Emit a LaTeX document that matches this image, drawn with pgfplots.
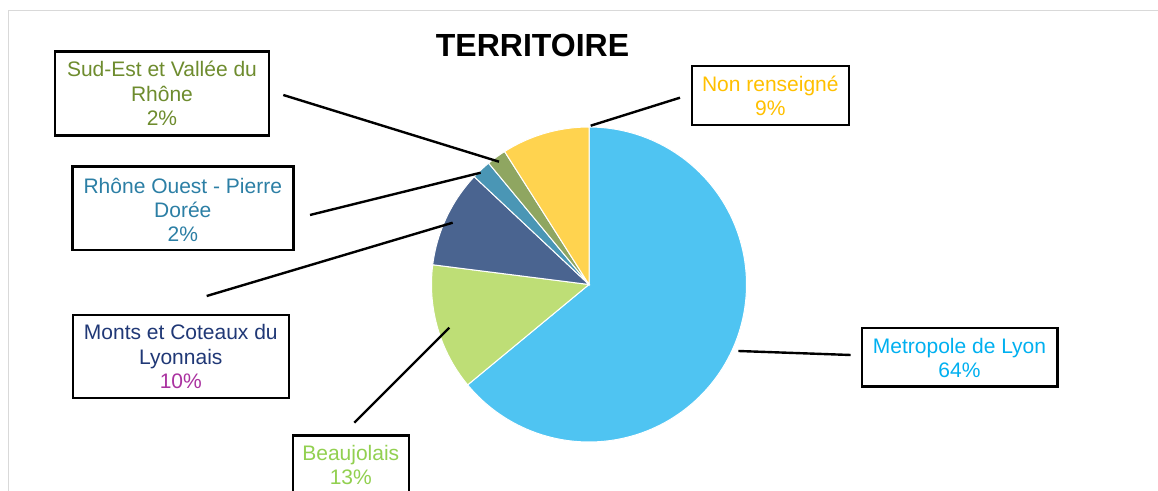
\documentclass[border=0pt]{standalone}
\usepackage{pgfplots}
\usepackage{pgfplotstable}
\pgfplotsset{compat=1.18}
\usepackage{fontspec}
\setmainfont{Liberation Sans}
\definecolor{cMet}{RGB}{79,196,242}
\definecolor{cBea}{RGB}{190,222,118}
\definecolor{cMon}{RGB}{74,100,144}
\definecolor{cRho}{RGB}{74,150,181}
\definecolor{cSud}{RGB}{143,166,97}
\definecolor{cNon}{RGB}{255,211,79}
\definecolor{tMet}{RGB}{0,176,240}
\definecolor{tBea}{RGB}{146,208,80}
\definecolor{tMon}{RGB}{32,56,118}
\definecolor{tMonP}{RGB}{170,50,160}
\definecolor{tRho}{RGB}{44,127,165}
\definecolor{tSud}{RGB}{110,140,46}
\definecolor{tNon}{RGB}{255,192,0}
\definecolor{frame}{RGB}{217,217,217}
\pgfplotstableread{
name value
Metropole 64
Beaujolais 13
Monts 10
RhoneOuest 2
SudEst 2
NonRenseigne 9
}\pietable
\begin{document}
\begin{tikzpicture}
\pgfplotstablegetelem{0}{value}\of\pietable \pgfmathsetmacro\aA{90-3.6*\pgfplotsretval}
\pgfplotstablegetelem{1}{value}\of\pietable \pgfmathsetmacro\aB{\aA-3.6*\pgfplotsretval}
\pgfplotstablegetelem{2}{value}\of\pietable \pgfmathsetmacro\aC{\aB-3.6*\pgfplotsretval}
\pgfplotstablegetelem{3}{value}\of\pietable \pgfmathsetmacro\aD{\aC-3.6*\pgfplotsretval}
\pgfplotstablegetelem{4}{value}\of\pietable \pgfmathsetmacro\aE{\aD-3.6*\pgfplotsretval}
\pgfplotstablegetelem{5}{value}\of\pietable \pgfmathsetmacro\aF{\aE-3.6*\pgfplotsretval}
\begin{axis}[
  at={(0,0)}, anchor=south west,
  width=579pt, height=245.5pt, scale only axis,
  xmin=0, xmax=1158, ymin=0, ymax=491, y dir=reverse,
  hide axis, clip=false,
  every axis plot/.append style={draw=white, line width=0.5pt},
]
% frame
\draw[frame, line width=0.8pt] (8.7,491) -- (8.7,10.7) -- (1158,10.7);
% pie slices
\addplot[fill=cMet, domain=\aA:90, samples=120, variable=\t]
  ({589+157.5*cos(t)}, {284.5-157.5*sin(t)}) -- (589,284.5) -- cycle;
\addplot[fill=cBea, domain=\aB:\aA, samples=30, variable=\t]
  ({589+157.5*cos(t)}, {284.5-157.5*sin(t)}) -- (589,284.5) -- cycle;
\addplot[fill=cMon, domain=\aC:\aB, samples=30, variable=\t]
  ({589+157.5*cos(t)}, {284.5-157.5*sin(t)}) -- (589,284.5) -- cycle;
\addplot[fill=cRho, domain=\aD:\aC, samples=10, variable=\t]
  ({589+157.5*cos(t)}, {284.5-157.5*sin(t)}) -- (589,284.5) -- cycle;
\addplot[fill=cSud, domain=\aE:\aD, samples=10, variable=\t]
  ({589+157.5*cos(t)}, {284.5-157.5*sin(t)}) -- (589,284.5) -- cycle;
\addplot[fill=cNon, domain=\aF:\aE, samples=30, variable=\t]
  ({589+157.5*cos(t)}, {284.5-157.5*sin(t)}) -- (589,284.5) -- cycle;
% leader lines
\tikzset{lead/.style={black, line width=1.2pt}}
\draw[lead] (283.3,95) -- (499,161.7);
\draw[lead] (680,97.7) -- (590.7,125.7);
\draw[lead] (310,215) -- (480.7,172.7);
\draw[lead] (206.7,296) -- (452.7,222.7);
\draw[lead] (354.3,422.7) -- (449.3,327.7);
\draw[lead] (738.3,351) -- (850.7,355);
% boxes
\tikzset{bx/.style={black, fill=white, line width=1.2pt}}
\draw[bx] (55,51.7) rectangle (269,135.7);
\draw[bx] (691.7,66) rectangle (849,125.3);
\draw[bx] (72.3,166.7) rectangle (293.3,250);
\draw[bx] (72.7,315) rectangle (289,398.3);
\draw[bx] (292.7,435.7) rectangle (409,500);
\draw[bx] (861.7,328.3) rectangle (1057.3,386.7);
% title
\node[anchor=base, font=\fontsize{16}{19}\selectfont\bfseries, inner sep=0pt] at (532.5,57) {TERRITOIRE};
% labels
\tikzset{lbl/.style={anchor=base, inner sep=0pt, font=\fontsize{10.5}{12.5}\selectfont}}
\node[lbl, text=tSud] at (162,76.7) {Sud-Est et Vallée du};
\node[lbl, text=tSud] at (162,101.5) {Rhône};
\node[lbl, text=tSud] at (162,126) {2\%};
\node[lbl, text=tNon] at (770.3,91.7) {Non renseigné};
\node[lbl, text=tNon] at (770.3,116) {9\%};
\node[lbl, text=tRho] at (182.8,193.3) {Rhône Ouest - Pierre};
\node[lbl, text=tRho] at (182.8,217.5) {Dorée};
\node[lbl, text=tRho] at (182.8,241.7) {2\%};
\node[lbl, text=tMon] at (180.8,340) {Monts et Coteaux du};
\node[lbl, text=tMon] at (180.8,364.5) {Lyonnais};
\node[lbl, text=tMonP] at (180.8,389) {10\%};
\node[lbl, text=tBea] at (350.8,460.7) {Beaujolais};
\node[lbl, text=tBea] at (350.8,484.5) {13\%};
\node[lbl, text=tMet] at (959.5,354) {Metropole de Lyon};
\node[lbl, text=tMet] at (959.5,377.5) {64\%};
\end{axis}
\pgfresetboundingbox
\useasboundingbox (0,0) rectangle (579pt,245.5pt);
\end{tikzpicture}
\end{document}
